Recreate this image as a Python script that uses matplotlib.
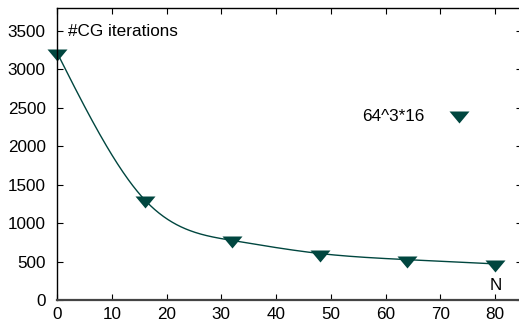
import numpy as np
import matplotlib
matplotlib.use("Agg")
import matplotlib.pyplot as plt

# CG iterations against N (64^3*16 run)
n_values = [0, 16, 32, 48, 64, 80]
cg_iters = [3220, 1305, 775, 605, 525, 470]
series_label = "64^3*16"
x_ticks = [0, 10, 20, 30, 40, 50, 60, 70, 80]
y_ticks = [0, 500, 1000, 1500, 2000, 2500, 3000, 3500]

teal = "#00463f"
plt.rcParams['font.family'] = ['Liberation Sans', 'DejaVu Sans']
plt.rcParams['font.size'] = 12.3


def natural_spline(x, y, xs):
	"""Natural cubic spline through (x, y), evaluated at xs."""
	x = np.asarray(x, float)
	y = np.asarray(y, float)
	n = len(x)
	h = np.diff(x)
	A = np.zeros((n, n))
	b = np.zeros(n)
	A[0, 0] = A[-1, -1] = 1
	for i in range(1, n - 1):
		A[i, i - 1] = h[i - 1]
		A[i, i] = 2 * (h[i - 1] + h[i])
		A[i, i + 1] = h[i]
		b[i] = 6 * ((y[i + 1] - y[i]) / h[i] - (y[i] - y[i - 1]) / h[i - 1])
	m = np.linalg.solve(A, b)
	k = np.clip(np.searchsorted(x, xs) - 1, 0, n - 2)
	t = xs - x[k]
	hk = h[k]
	a = (m[k + 1] - m[k]) / (6 * hk)
	c = m[k] / 2
	d = (y[k + 1] - y[k]) / hk - hk * (2 * m[k] + m[k + 1]) / 6
	return y[k] + d * t + c * t ** 2 + a * t ** 3


# smooth curve through the points, like gnuplot's "smooth csplines"
xs = np.linspace(n_values[0], n_values[-1], 400)
ys = natural_spline(n_values, cg_iters, xs)

# triangle pointing down with its centroid on the data point
tri = [(-1, 0.4), (1, 0.4), (0, -0.8), (-1, 0.4)]

fig = plt.figure(figsize=(5.19, 3.22), dpi=100)
ax = fig.add_axes([57 / 519, 22 / 322, 465.4 / 519, 292 / 322])

ax.plot(xs, ys, color=teal, lw=1.0)
ax.plot(n_values, cg_iters, linestyle='none', marker=tri, markersize=14.4,
		color=teal, markeredgewidth=0, label=series_label, clip_on=False)

ax.set_xlim(0, 85)
ax.set_ylim(0, 3800)
ax.set_xticks(x_ticks)
ax.set_yticks(y_ticks)
ax.tick_params(direction='in', length=4, width=0.8, top=True, right=True)
ax.tick_params(axis='y', pad=8)
ax.tick_params(axis='x', pad=5)

for side in ['top', 'left', 'right']:
	ax.spines[side].set_linewidth(1.0)
	ax.spines[side].set_color('black')
ax.spines['bottom'].set_linewidth(1.6)
ax.spines['bottom'].set_color('#444444')

ax.text(0.0237, 0.918, "#CG iterations", transform=ax.transAxes,
		ha='left', va='center')
ax.text(0.942, 0.048, "N", transform=ax.transAxes, ha='center', va='center')

ax.legend(loc='center right', bbox_to_anchor=(0.892, 0.627), frameon=False,
		markerfirst=False, numpoints=1, handlelength=1.5, handletextpad=1.3,
		borderpad=0, borderaxespad=0)

fig.savefig("out.png", dpi=100)
